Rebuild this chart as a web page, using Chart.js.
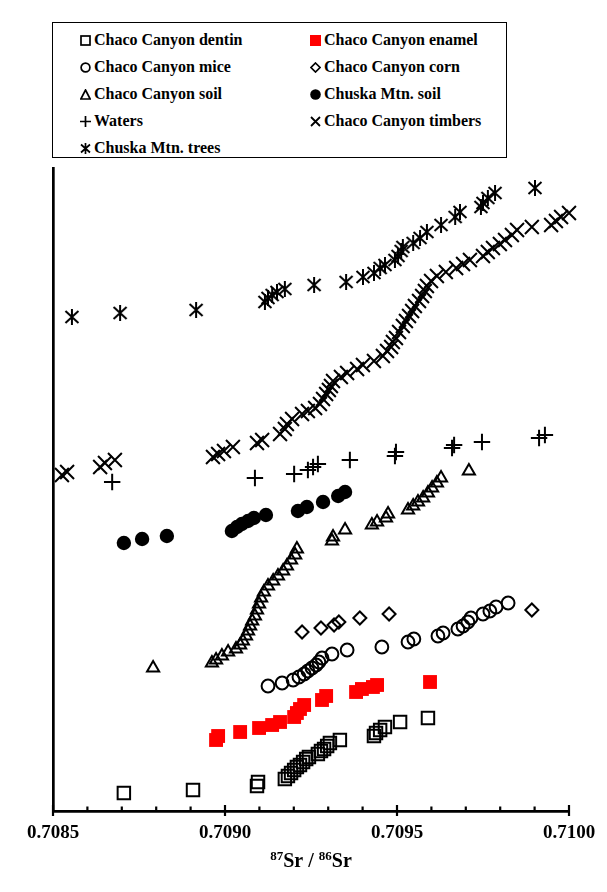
<!DOCTYPE html>
<html>
<head>
<meta charset="utf-8">
<script src="https://cdn.jsdelivr.net/npm/chart.js@4.4.0/dist/chart.umd.min.js"></script>
<style>
  html, body { margin: 0; padding: 0; background: #fff; }
  #wrap { position: relative; width: 607px; height: 892px; }
  #plot { position: absolute; left: 0; top: 0; }
  #legend {
    position: absolute; left: 52px; top: 22px; width: 455px; height: 136px;
    box-sizing: border-box; border: 1.6px solid #000; background: #fff;
    font: bold 16px "Liberation Serif", "Times New Roman", serif; color: #000;
  }
  .item { position: absolute; height: 18px; display: flex; align-items: center; white-space: nowrap; }
  .item svg { margin-right: 3px; flex: none; }
</style>
</head>
<body>
<div id="wrap">
  <canvas id="plot" width="607" height="892"></canvas>
  <div id="legend">
    <div class="item" style="left:27px;top:8px"><svg width="11" height="11"><rect x="1" y="1" width="9" height="9" fill="none" stroke="#000" stroke-width="1.7"/></svg>Chaco Canyon dentin</div>
    <div class="item" style="left:257px;top:8px"><svg width="11" height="11"><rect x="0" y="0" width="11" height="11" fill="#ff0000"/></svg>Chaco Canyon enamel</div>
    <div class="item" style="left:27px;top:35px"><svg width="11" height="11"><circle cx="5.5" cy="5.5" r="4.4" fill="none" stroke="#000" stroke-width="1.7"/></svg>Chaco Canyon mice</div>
    <div class="item" style="left:257px;top:35px"><svg width="11" height="11"><polygon points="5.5,1 10,5.5 5.5,10 1,5.5" fill="none" stroke="#000" stroke-width="1.7"/></svg>Chaco Canyon corn</div>
    <div class="item" style="left:27px;top:62px"><svg width="11" height="11"><polygon points="5.5,1 10.2,10 0.8,10" fill="none" stroke="#000" stroke-width="1.7"/></svg>Chaco Canyon soil</div>
    <div class="item" style="left:257px;top:62px"><svg width="11" height="11"><circle cx="5.5" cy="5.5" r="5.3" fill="#000"/></svg>Chuska Mtn. soil</div>
    <div class="item" style="left:27px;top:89px"><svg width="11" height="11"><path d="M5.5 0 V11 M0 5.5 H11" stroke="#000" stroke-width="1.7"/></svg>Waters</div>
    <div class="item" style="left:257px;top:89px"><svg width="11" height="11"><path d="M1 1 L10 10 M10 1 L1 10" stroke="#000" stroke-width="1.8"/></svg>Chaco Canyon timbers</div>
    <div class="item" style="left:27px;top:116px"><svg width="11" height="11"><path d="M1 1.5 L10 9.5 M10 1.5 L1 9.5 M5.5 0 V11" stroke="#000" stroke-width="1.7"/></svg>Chuska Mtn. trees</div>
  </div>
</div>
<script>
// 87Sr/86Sr values (x) and cumulative plotting positions (y) for each sample group

const dentinSr = [0.708706, 0.708907, 0.709093, 0.709096, 0.709174, 0.709183, 0.709192, 0.709201, 0.709209, 0.709218,
  0.709227, 0.709236, 0.709244, 0.709270, 0.709279, 0.709288, 0.709297, 0.709305, 0.709334, 0.709433,
  0.709439, 0.709451, 0.709465, 0.709509, 0.709590];
const dentinPos = [18, 21, 25, 29, 32, 35, 38, 41, 44, 46, 49, 52, 54, 57, 60, 62, 65, 68, 71, 75, 78, 81, 84, 89, 93];

const enamelSr = [0.708974, 0.708980, 0.709044, 0.709099, 0.709137, 0.709160, 0.709201, 0.709209, 0.709218, 0.709230,
  0.709282, 0.709294, 0.709381, 0.709398, 0.709430, 0.709442, 0.709596];
const enamelPos = [71, 75, 79, 83, 86, 89, 94, 98, 102, 106, 111, 115, 119, 122, 124, 126, 129];

const miceSr = [0.709125, 0.709166, 0.709198, 0.709215, 0.709230, 0.709241, 0.709253, 0.709265, 0.709273, 0.709282,
  0.709311, 0.709355, 0.709456, 0.709532, 0.709549, 0.709619, 0.709634, 0.709677, 0.709692, 0.709706,
  0.709715, 0.709750, 0.709770, 0.709788, 0.709823];
const micePos = [125, 128, 131, 134, 137, 140, 143, 146, 149, 153, 157, 161, 164, 169, 172, 175, 178, 182, 185, 189,
  193, 197, 200, 204, 208];

const cornSr = [0.709224, 0.709279, 0.709317, 0.709331, 0.709392, 0.709477, 0.709892];
const cornPos = [179, 183, 186, 189, 193, 197, 201];

const chacoSoilSr = [0.708791, 0.708962, 0.708974, 0.708991, 0.709009, 0.709032, 0.709044, 0.709052, 0.709061, 0.709067,
  0.709073, 0.709079, 0.709087, 0.709093, 0.709099, 0.709105, 0.709113, 0.709125, 0.709140, 0.709154,
  0.709169, 0.709180, 0.709192, 0.709204, 0.709209, 0.709311, 0.709314, 0.709349, 0.709427, 0.709442,
  0.709468, 0.709474, 0.709532, 0.709547, 0.709561, 0.709576, 0.709590, 0.709602, 0.709616, 0.709628,
  0.709709];
const chacoSoilPos = [143, 148, 151, 155, 159, 162, 166, 170, 175, 180, 185, 190, 195, 201, 207, 213, 219, 225, 230, 235,
  240, 245, 251, 256, 262, 270, 274, 281, 286, 289, 293, 297, 301, 305, 309, 313, 318, 323, 328, 333, 340];

const chuskaSoilSr = [0.708706, 0.708759, 0.708831, 0.709020, 0.709035, 0.709049, 0.709067, 0.709084, 0.709119, 0.709212,
  0.709238, 0.709285, 0.709329, 0.709349];
const chuskaSoilPos = [268, 272, 275, 280, 284, 287, 290, 293, 296, 300, 304, 309, 315, 319];

const watersSr = [0.708672, 0.709087, 0.709201, 0.709241, 0.709256, 0.709270, 0.709363, 0.709494, 0.709497, 0.709660,
  0.709666, 0.709747, 0.709913, 0.709930];
const watersPos = [329, 333, 337, 341, 344, 347, 351, 355, 359, 363, 366, 369, 373, 376];

const timbersSr = [0.708526, 0.708541, 0.708637, 0.708651, 0.708680, 0.708965, 0.708980, 0.708997, 0.709023, 0.709093,
  0.709108, 0.709160, 0.709174, 0.709180, 0.709195, 0.709224, 0.709241, 0.709262, 0.709276, 0.709285,
  0.709294, 0.709302, 0.709308, 0.709314, 0.709337, 0.709355, 0.709384, 0.709401, 0.709433, 0.709459,
  0.709471, 0.709483, 0.709488, 0.709497, 0.709506, 0.709517, 0.709526, 0.709535, 0.709544, 0.709552,
  0.709564, 0.709573, 0.709581, 0.709587, 0.709599, 0.709616, 0.709642, 0.709672, 0.709692, 0.709712,
  0.709750, 0.709764, 0.709779, 0.709799, 0.709814, 0.709834, 0.709849, 0.709892, 0.709948, 0.709962,
  0.709977, 0.710000];
const timbersPos = [336, 339, 344, 348, 351, 354, 357, 360, 364, 368, 371, 377, 382, 387, 392, 397, 400, 403, 407, 412,
  417, 421, 425, 430, 434, 438, 442, 446, 450, 455, 460, 464, 469, 473, 479, 485, 490, 495, 500, 505,
  510, 515, 520, 525, 530, 535, 539, 543, 547, 551, 555, 559, 563, 567, 571, 576, 581, 584, 586, 590,
  594, 598];

const treesSr = [0.708555, 0.708695, 0.708916, 0.709116, 0.709125, 0.709137, 0.709151, 0.709174, 0.709259, 0.709352,
  0.709401, 0.709433, 0.709451, 0.709465, 0.709494, 0.709503, 0.709512, 0.709517, 0.709547, 0.709567,
  0.709587, 0.709628, 0.709669, 0.709683, 0.709744, 0.709750, 0.709764, 0.709785, 0.709901];
const treesPos = [494, 498, 501, 509, 513, 516, 519, 522, 526, 529, 534, 538, 543, 546, 551, 555, 560, 564, 568, 573,
  579, 586, 594, 599, 604, 608, 613, 618, 623];

// x axis range and tick spacing
const xMin = 0.7085, xMax = 0.7100, minorStep = 0.0001;

// marker: X with a vertical bar through it
function starMarker() {
  const c = document.createElement('canvas');
  c.width = 18; c.height = 18;
  const g = c.getContext('2d');
  g.strokeStyle = '#000';
  g.lineWidth = 2;
  g.beginPath();
  g.moveTo(2.5, 3); g.lineTo(15.5, 15);
  g.moveTo(15.5, 3); g.lineTo(2.5, 15);
  g.moveTo(9, 1); g.lineTo(9, 17);
  g.stroke();
  return c;
}

function series(label, xs, ys, style) {
  return Object.assign({
    label,
    data: xs.map((x, i) => ({ x, y: ys[i] })),
    clip: false,
    pointHoverRadius: style.pointRadius
  }, style);
}

const none = 'rgba(0,0,0,0)';
const datasets = [
  series('Chaco Canyon dentin', dentinSr, dentinPos,
    { pointStyle: 'rect', pointRadius: 8.8, borderColor: '#000', backgroundColor: none, borderWidth: 2 }),
  series('Chaco Canyon enamel', enamelSr, enamelPos,
    { pointStyle: 'rect', pointRadius: 9.8, borderColor: '#ff0000', backgroundColor: '#ff0000', borderWidth: 0 }),
  series('Chaco Canyon mice', miceSr, micePos,
    { pointStyle: 'circle', pointRadius: 6.4, borderColor: '#000', backgroundColor: none, borderWidth: 2 }),
  series('Chaco Canyon corn', cornSr, cornPos,
    { pointStyle: 'rectRot', pointRadius: 6.5, borderColor: '#000', backgroundColor: none, borderWidth: 2 }),
  series('Chaco Canyon soil', chacoSoilSr, chacoSoilPos,
    { pointStyle: 'triangle', pointRadius: 7, borderColor: '#000', backgroundColor: none, borderWidth: 2 }),
  series('Chuska Mtn. soil', chuskaSoilSr, chuskaSoilPos,
    { pointStyle: 'circle', pointRadius: 7.2, borderColor: '#000', backgroundColor: '#000', borderWidth: 0 }),
  series('Waters', watersSr, watersPos,
    { pointStyle: 'cross', pointRadius: 8.2, borderColor: '#000', backgroundColor: none, borderWidth: 2 }),
  series('Chaco Canyon timbers', timbersSr, timbersPos,
    { pointStyle: 'crossRot', pointRadius: 9.8, borderColor: '#000', backgroundColor: none, borderWidth: 2 }),
  series('Chuska Mtn. trees', treesSr, treesPos,
    { pointStyle: starMarker(), pointRadius: 9, borderColor: '#000', backgroundColor: none, borderWidth: 2 })
];

const isMajor = v => Math.round(v / minorStep) % 5 === 0;

// inward minor ticks, crossing major ticks, and the isotope-ratio axis title
const axisDecor = {
  id: 'axisDecor',
  afterDraw(chart) {
    const sx = chart.scales.x;
    const g = chart.ctx;
    const yb = chart.chartArea.bottom;
    g.save();
    g.strokeStyle = '#000';
    g.lineWidth = 2.2;
    sx.ticks.forEach(t => {
      const px = sx.getPixelForValue(t.value);
      const major = isMajor(t.value);
      g.beginPath();
      g.moveTo(px, major ? yb - 6 : yb - 4.5);
      g.lineTo(px, major ? yb + 5 : yb);
      g.stroke();
    });

    const big = 'bold 20px "Liberation Serif", "Times New Roman", serif';
    const small = 'bold 13px "Liberation Serif", "Times New Roman", serif';
    const parts = [['87', small, -7], ['Sr / ', big, 0], ['86', small, -7], ['Sr', big, 0]];
    let total = 0;
    parts.forEach(p => { g.font = p[1]; total += g.measureText(p[0]).width; });
    let x = (sx.left + sx.right) / 2 - total / 2;
    const base = 867;
    g.fillStyle = '#000';
    g.textBaseline = 'alphabetic';
    g.textAlign = 'left';
    parts.forEach(p => {
      g.font = p[1];
      g.fillText(p[0], x, base + p[2]);
      x += g.measureText(p[0]).width;
    });
    g.restore();
  }
};

new Chart(document.getElementById('plot'), {
  type: 'scatter',
  data: { datasets },
  options: {
    responsive: false,
    animation: false,
    events: [],
    layout: { padding: { left: 53, right: 38, top: 168, bottom: 0 } },
    plugins: { legend: { display: false }, tooltip: { enabled: false } },
    scales: {
      x: {
        type: 'linear',
        min: xMin,
        max: xMax,
        ticks: {
          stepSize: minorStep,
          autoSkip: false,
          maxRotation: 0,
          padding: 11,
          color: '#000',
          font: { family: '"Liberation Serif", "Times New Roman", serif', size: 19, weight: 'bold' },
          callback: v => isMajor(v) ? v.toFixed(4) : ''
        },
        grid: { display: true, drawOnChartArea: false, drawTicks: false },
        border: { display: true, color: '#000', width: 2.7 },
        afterFit: s => { s.height = 81; }
      },
      y: {
        type: 'linear',
        min: 0,
        max: 643,
        ticks: { display: false },
        grid: { display: true, drawOnChartArea: false, drawTicks: false },
        border: { display: true, color: '#000', width: 2.7 },
        afterFit: s => { s.width = 0; }
      }
    }
  },
  plugins: [axisDecor]
});
</script>
</body>
</html>
